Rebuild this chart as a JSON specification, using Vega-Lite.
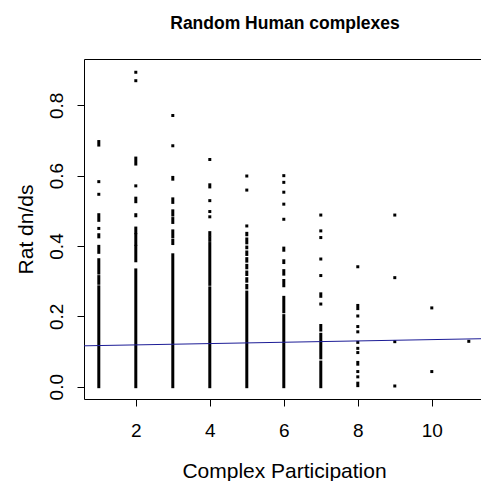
{
  "$schema": "https://vega.github.io/schema/vega-lite/v6.json",
  "autosize": {"type": "none"},
  "padding": {"left": 84, "top": 59, "right": 0, "bottom": 82},
  "width": 397,
  "height": 340,
  "background": "white",
  "title": {
    "text": "Random Human complexes",
    "font": "Liberation Sans",
    "fontSize": 17.5,
    "fontWeight": "bold",
    "color": "black",
    "anchor": "middle",
    "frame": "group",
    "baseline": "alphabetic",
    "offset": 12.3,
    "dx": 2.5
  },
  "datasets": {
    "runs": [
      {"complex": 1, "lo": 0.0, "hi": 0.284},
      {"complex": 1, "lo": 0.294, "hi": 0.313},
      {"complex": 1, "lo": 0.323, "hi": 0.361},
      {"complex": 1, "lo": 0.382, "hi": 0.399},
      {"complex": 1, "lo": 0.426, "hi": 0.432},
      {"complex": 1, "lo": 0.473, "hi": 0.489},
      {"complex": 1, "lo": 0.687, "hi": 0.697},
      {"complex": 2, "lo": 0.0, "hi": 0.332},
      {"complex": 2, "lo": 0.358, "hi": 0.399},
      {"complex": 2, "lo": 0.405, "hi": 0.432},
      {"complex": 2, "lo": 0.438, "hi": 0.451},
      {"complex": 2, "lo": 0.486, "hi": 0.489},
      {"complex": 2, "lo": 0.526, "hi": 0.536},
      {"complex": 2, "lo": 0.633, "hi": 0.650},
      {"complex": 3, "lo": 0.0, "hi": 0.375},
      {"complex": 3, "lo": 0.407, "hi": 0.417},
      {"complex": 3, "lo": 0.427, "hi": 0.443},
      {"complex": 3, "lo": 0.467, "hi": 0.478},
      {"complex": 3, "lo": 0.488, "hi": 0.500},
      {"complex": 3, "lo": 0.524, "hi": 0.534},
      {"complex": 3, "lo": 0.590, "hi": 0.595},
      {"complex": 4, "lo": 0.0, "hi": 0.281},
      {"complex": 4, "lo": 0.291, "hi": 0.407},
      {"complex": 4, "lo": 0.416, "hi": 0.424},
      {"complex": 4, "lo": 0.432, "hi": 0.438},
      {"complex": 4, "lo": 0.568, "hi": 0.574},
      {"complex": 5, "lo": 0.0, "hi": 0.269},
      {"complex": 5, "lo": 0.281, "hi": 0.288},
      {"complex": 5, "lo": 0.300, "hi": 0.307},
      {"complex": 5, "lo": 0.319, "hi": 0.326},
      {"complex": 5, "lo": 0.338, "hi": 0.345},
      {"complex": 5, "lo": 0.357, "hi": 0.364},
      {"complex": 5, "lo": 0.376, "hi": 0.383},
      {"complex": 5, "lo": 0.395, "hi": 0.397},
      {"complex": 5, "lo": 0.409, "hi": 0.420},
      {"complex": 5, "lo": 0.432, "hi": 0.436},
      {"complex": 6, "lo": 0.0, "hi": 0.202},
      {"complex": 6, "lo": 0.213, "hi": 0.254},
      {"complex": 6, "lo": 0.287, "hi": 0.302},
      {"complex": 6, "lo": 0.320, "hi": 0.330},
      {"complex": 6, "lo": 0.353, "hi": 0.358},
      {"complex": 6, "lo": 0.388, "hi": 0.394},
      {"complex": 7, "lo": 0.0, "hi": 0.070},
      {"complex": 7, "lo": 0.082, "hi": 0.149},
      {"complex": 7, "lo": 0.161, "hi": 0.174},
      {"complex": 7, "lo": 0.257, "hi": 0.264},
      {"complex": 8, "lo": 0.003, "hi": 0.010},
      {"complex": 8, "lo": 0.064, "hi": 0.069},
      {"complex": 8, "lo": 0.222, "hi": 0.231}
    ],
    "points": [
      {"complex": 1, "dnds": 0.450},
      {"complex": 1, "dnds": 0.547},
      {"complex": 1, "dnds": 0.583},
      {"complex": 2, "dnds": 0.571},
      {"complex": 2, "dnds": 0.870},
      {"complex": 2, "dnds": 0.894},
      {"complex": 3, "dnds": 0.685},
      {"complex": 3, "dnds": 0.771},
      {"complex": 4, "dnds": 0.483},
      {"complex": 4, "dnds": 0.498},
      {"complex": 4, "dnds": 0.529},
      {"complex": 4, "dnds": 0.646},
      {"complex": 5, "dnds": 0.457},
      {"complex": 5, "dnds": 0.559},
      {"complex": 5, "dnds": 0.599},
      {"complex": 6, "dnds": 0.476},
      {"complex": 6, "dnds": 0.519},
      {"complex": 6, "dnds": 0.553},
      {"complex": 6, "dnds": 0.581},
      {"complex": 6, "dnds": 0.600},
      {"complex": 7, "dnds": 0.235},
      {"complex": 7, "dnds": 0.316},
      {"complex": 7, "dnds": 0.363},
      {"complex": 7, "dnds": 0.424},
      {"complex": 7, "dnds": 0.443},
      {"complex": 7, "dnds": 0.488},
      {"complex": 8, "dnds": 0.028},
      {"complex": 8, "dnds": 0.043},
      {"complex": 8, "dnds": 0.097},
      {"complex": 8, "dnds": 0.109},
      {"complex": 8, "dnds": 0.126},
      {"complex": 8, "dnds": 0.156},
      {"complex": 8, "dnds": 0.171},
      {"complex": 8, "dnds": 0.201},
      {"complex": 8, "dnds": 0.341},
      {"complex": 9, "dnds": 0.002},
      {"complex": 9, "dnds": 0.128},
      {"complex": 9, "dnds": 0.310},
      {"complex": 9, "dnds": 0.488},
      {"complex": 10, "dnds": 0.043},
      {"complex": 10, "dnds": 0.224},
      {"complex": 11, "dnds": 0.129}
    ],
    "fit": [
      {"complex": 0.6, "fit": 0.1162},
      {"complex": 11.4, "fit": 0.1365}
    ]
  },
  "layer": [
    {
      "data": {"name": "runs"},
      "mark": {"type": "rule", "strokeWidth": 3, "strokeCap": "square", "color": "black"},
      "encoding": {
        "x": {
          "field": "complex", "type": "quantitative",
          "scale": {"domain": [0.6, 11.33], "nice": false, "zero": false},
          "axis": {
            "title": "Complex Participation",
            "values": [2, 4, 6, 8, 10],
            "labelBaseline": "alphabetic",
            "labelPadding": 30,
            "labelFlush": false,
            "labelOverlap": false,
            "titleX": 200,
            "titleY": 78.5,
            "titleBaseline": "alphabetic",
            "titleAlign": "center"
          }
        },
        "y": {
          "field": "lo", "type": "quantitative",
          "scale": {"domain": [-0.035, 0.9317], "nice": false, "zero": false},
          "axis": {
            "title": "Rat dn/ds",
            "values": [0, 0.2, 0.4, 0.6, 0.8],
            "format": ".1f",
            "labelAngle": 270,
            "labelAlign": "center",
            "labelBaseline": "alphabetic",
            "labelPadding": 14.5,
            "labelFlush": false,
            "labelOverlap": false,
            "titleAngle": 270,
            "titleX": -51.3,
            "titleY": 170,
            "titleBaseline": "alphabetic",
            "titleAlign": "center"
          }
        },
        "y2": {"field": "hi"}
      }
    },
    {
      "data": {"name": "points"},
      "mark": {"type": "point", "shape": "square", "filled": true, "size": 9, "color": "black", "opacity": 1, "strokeWidth": 0},
      "encoding": {
        "x": {"field": "complex", "type": "quantitative", "title": "Complex Participation"},
        "y": {"field": "dnds", "type": "quantitative", "title": "Rat dn/ds"}
      }
    },
    {
      "data": {"name": "fit"},
      "mark": {"type": "line", "color": "#1c1c96", "strokeWidth": 1, "clip": true},
      "encoding": {
        "x": {"field": "complex", "type": "quantitative", "title": "Complex Participation"},
        "y": {"field": "fit", "type": "quantitative", "title": "Rat dn/ds"}
      }
    }
  ],
  "config": {
    "view": {"stroke": "black", "strokeWidth": 1},
    "axis": {
      "domain": false,
      "grid": false,
      "ticks": true,
      "tickColor": "black",
      "tickSize": 7,
      "tickWidth": 1,
      "labelFont": "Liberation Sans",
      "labelFontSize": 19,
      "labelColor": "black",
      "titleFont": "Liberation Sans",
      "titleFontSize": 21,
      "titleFontWeight": "normal",
      "titleColor": "black"
    }
  }
}
